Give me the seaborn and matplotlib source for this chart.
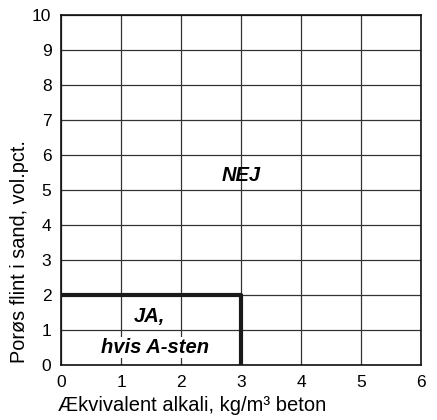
import pandas as pd
import matplotlib
matplotlib.use("Agg")
import matplotlib.pyplot as plt
import seaborn as sns

# Graense mellem omraaderne
graense_x = [0, 3, 3]
graense_y = [2, 2, 0]
x_ticks = [0, 1, 2, 3, 4, 5, 6]
y_ticks = [0, 1, 2, 3, 4, 5, 6, 7, 8, 9, 10]

sns.set_style("white")
plt.rcParams["font.family"] = ["Liberation Sans", "DejaVu Sans"]
plt.rcParams["text.color"] = "black"

fig = plt.figure(figsize=(4.37, 4.2), dpi=100)
ax = fig.add_axes([0.14, 0.131, 0.823, 0.833])

df = pd.DataFrame({"x": graense_x, "y": graense_y})
sns.lineplot(data=df, x="x", y="y", sort=False, estimator=None, color="#1a1a1a", linewidth=3.0, ax=ax, zorder=3)

ax.set_xlim(0, 6)
ax.set_ylim(0, 10)
ax.set_xticks(x_ticks)
ax.set_yticks(y_ticks)
ax.grid(True, color="#333333", linewidth=0.9)
ax.tick_params(length=0, labelsize=12.5, colors="black", pad=7)
for s in ax.spines.values():
    s.set_color("#111111")
    s.set_linewidth(1.2)

ax.set_xlabel("Ækvivalent alkali, kg/m³ beton", fontsize=14.5, color="black")
ax.xaxis.label.set_horizontalalignment("left")
ax.xaxis.set_label_coords(-0.008, -0.088)
ax.set_ylabel("Porøs flint i sand, vol.pct.", fontsize=14.3, color="black")
ax.yaxis.label.set_horizontalalignment("left")
ax.yaxis.label.set_verticalalignment("center")
ax.yaxis.set_label_coords(-0.115, 0.005)

tekst = dict(fontsize=14.5, fontweight="bold", fontstyle="italic", ha="center", va="center", color="black")
ax.text(3, 5.42, "NEJ", **tekst)
ax.text(1.48, 1.38, "JA,", **tekst)
ax.text(1.57, 0.5, "hvis A-sten", bbox=dict(facecolor="white", edgecolor="none", pad=1), **tekst)

fig.savefig("out.png", dpi=100)
